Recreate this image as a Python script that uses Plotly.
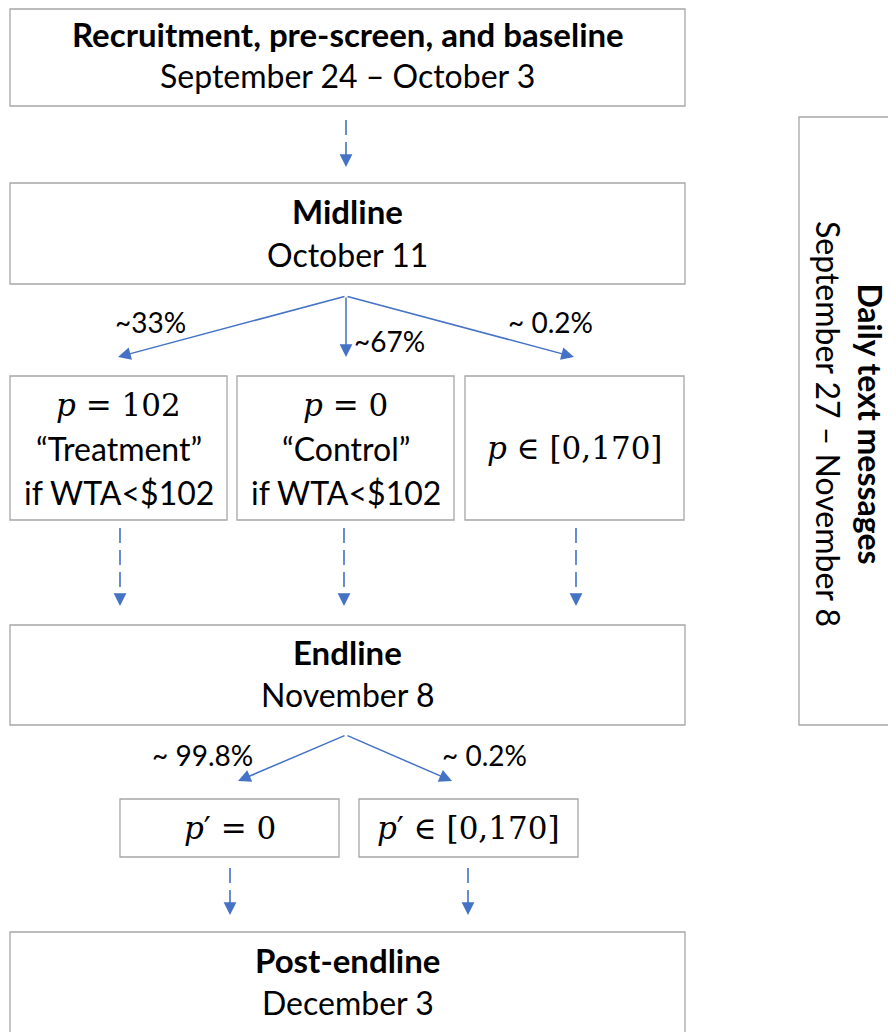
import plotly.graph_objects as go

# ---------------- data ----------------
stage_titles = ["Recruitment, pre-screen, and baseline", "Midline", "Endline", "Post-endline"]
stage_dates = ["September 24 – October 3", "October 11", "November 8", "December 3"]

midline_shares = ["~33%", "~67%", "~ 0.2%"]
arm_price = ["<i>p</i>&nbsp;=&nbsp;102", "<i>p</i>&nbsp;=&nbsp;0", "<i>p</i> ∈ [0,170]"]
arm_names = ["“Treatment”", "“Control”", ""]
arm_conditions = ["if WTA<$102", "if WTA<$102", ""]

endline_shares = ["~ 99.8%", "~ 0.2%"]
post_price = ["<i>p</i>′&nbsp;=&nbsp;0", "<i>p</i>′ ∈ [0,170]"]

sidebar_title = "Daily text messages"
sidebar_dates = "September 27 – November 8"

# ---------------- layout (pixel geometry) ----------------
W, H = 896, 1032
OFF = 8  # page body margin of the browser
BORDER = "#A6A6A6"
BLUE = "#4472C4"
SANS = "Lato, 'Open Sans', sans-serif"
SERIF = "'DejaVu Serif', 'Liberation Serif', serif"
FS = 32
BS = 33
PS = 28
MS = 31

stage_boxes = [(10, 9, 685, 106), (10, 183, 685, 284), (10, 625, 685, 725), (10, 932, 685, 1045)]
arm_boxes = [(10, 376, 227, 520), (237, 376, 454, 520), (465, 376, 684, 520)]
post_boxes = [(120, 799, 339, 857), (359, 799, 578, 857)]
side_box = (799, 117, 920, 725)
title_y = [36, 213, 654, 962]
date_y = [77, 256, 696, 1004]

shapes = []
annotations = []


def box(b):
    shapes.append(dict(type="rect", x0=b[0], y0=b[1], x1=b[2], y1=b[3],
                       line=dict(color=BORDER, width=1.3), fillcolor="white", layer="below"))


def text(x, y, s, size=FS, family=SANS, bold=False, angle=0, xanchor="center"):
    if bold:
        s = "<b>" + s + "</b>"
    annotations.append(dict(x=x, y=y, text=s, showarrow=False, xref="x", yref="y",
                            font=dict(size=size, family=family, color="black"),
                            textangle=angle, xanchor=xanchor, yanchor="middle"))


def arrow(x0, y0, x1, y1):
    annotations.append(dict(x=x1, y=y1, ax=x0, ay=y0, xref="x", yref="y", axref="x", ayref="y",
                            text="", showarrow=True, arrowhead=2, arrowsize=1.7, arrowwidth=1.5,
                            arrowcolor=BLUE, standoff=0, startstandoff=0))


def dashed_arrow(x, y0, y1):
    shapes.append(dict(type="line", x0=x, y0=y0, x1=x, y1=y1 - 12,
                       line=dict(color=BLUE, width=1.6, dash="15px,7px")))
    arrow(x, y1 - 12, x, y1)


# stage boxes
for b, t, d, ty, dy in zip(stage_boxes, stage_titles, stage_dates, title_y, date_y):
    box(b)
    cx = (b[0] + b[2]) / 2
    text(cx, ty - 2, t, size=BS, bold=True)
    text(cx, dy - 2, d)

# arm boxes
for b, p, n, c in zip(arm_boxes, arm_price, arm_names, arm_conditions):
    box(b)
    cx = (b[0] + b[2]) / 2
    if n:
        text(cx, b[1] + 29, p, size=MS, family=SERIF)
        text(cx, b[1] + 72, n)
        text(cx, b[1] + 116, c)
    else:
        text(cx, b[1] + 72, p, size=MS, family=SERIF)

# post boxes
for b, p in zip(post_boxes, post_price):
    box(b)
    text((b[0] + b[2]) / 2, (b[1] + b[3]) / 2, p, size=MS, family=SERIF)

# side box
box(side_box)
annotations.append(dict(x=850, y=424, text="<b>" + sidebar_title + "</b><br>" + sidebar_dates,
                        showarrow=False, xref="x", yref="y", textangle=90,
                        font=dict(size=FS, family=SANS, color="black")))

# dashed arrows between stages
dashed_arrow(346, 120, 167)
for x in [120, 344, 576]:
    dashed_arrow(x, 528, 606)
for x in [230, 468]:
    dashed_arrow(x, 868, 915)

# branching arrows from midline
mid_src = (346, 296)
for xt in [118, 346, 574]:
    arrow(mid_src[0], mid_src[1], xt, 357)
text(150, 322, midline_shares[0], size=PS)
text(389, 341, midline_shares[1], size=PS)
text(550, 322, midline_shares[2], size=PS)

# branching arrows from endline
end_src = (346, 735)
arrow(end_src[0], end_src[1], 238, 781)
arrow(end_src[0], end_src[1], 452, 781)
text(202, 755, endline_shares[0], size=PS)
text(484, 755, endline_shares[1], size=PS)

fig = go.Figure()
fig.update_layout(
    width=W, height=H, margin=dict(l=0, r=0, t=0, b=0),
    paper_bgcolor="white", plot_bgcolor="white",
    xaxis=dict(range=[OFF, W + OFF], visible=False, fixedrange=True),
    yaxis=dict(range=[H + OFF, OFF], visible=False, fixedrange=True),
    shapes=shapes, annotations=annotations, showlegend=False,
)
fig.write_html("out.html")
